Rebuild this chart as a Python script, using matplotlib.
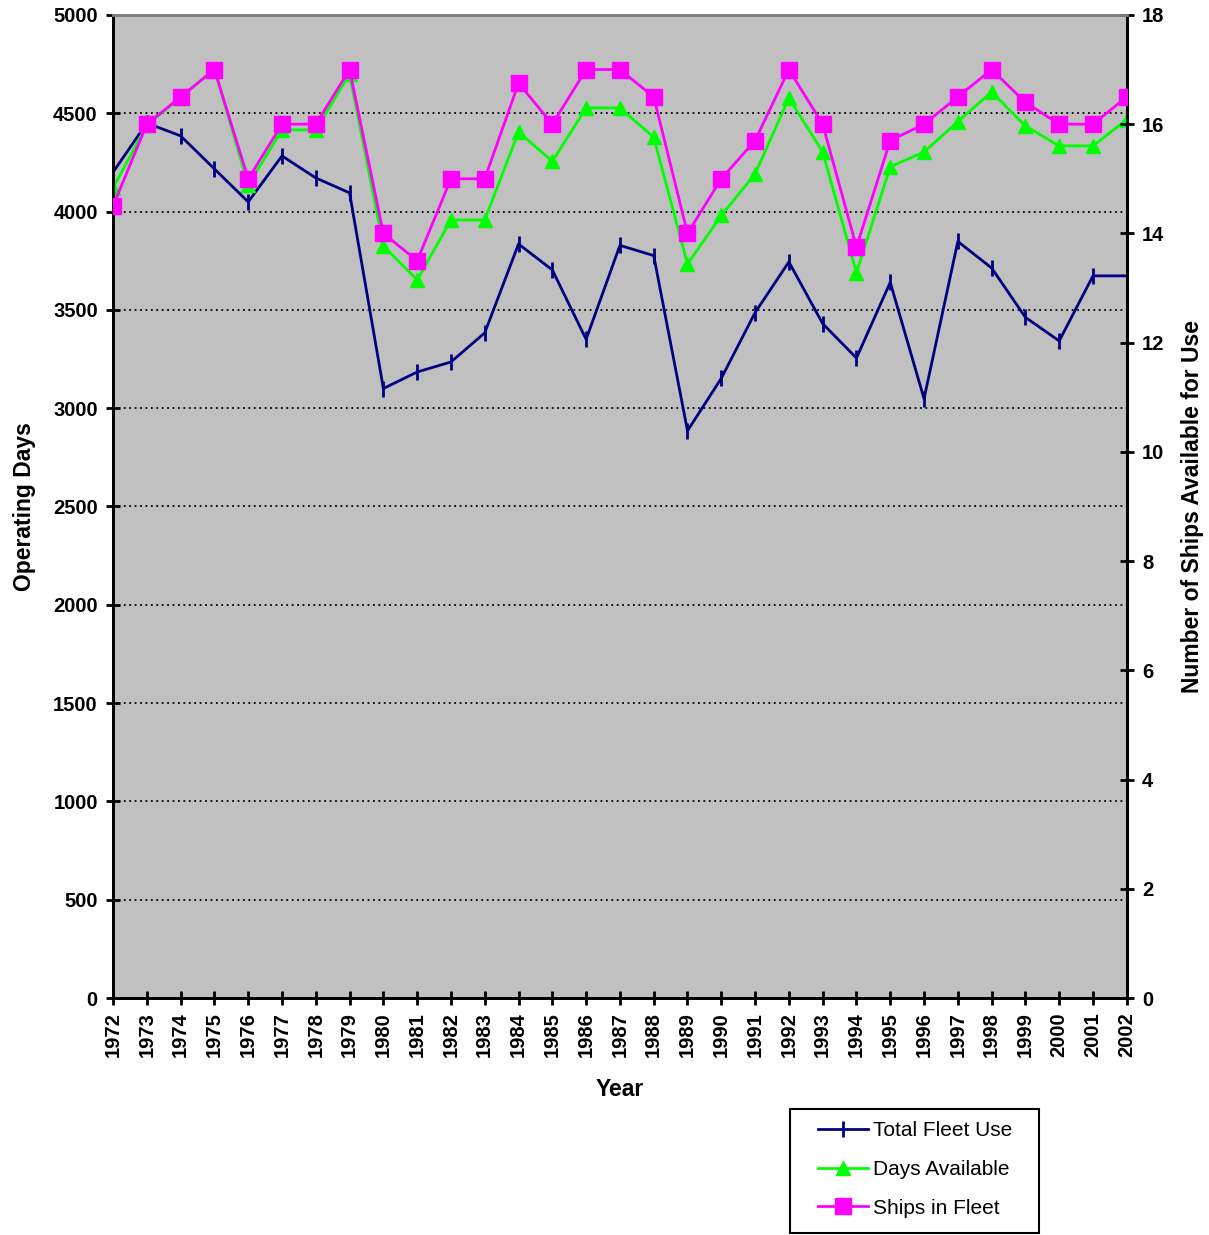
import matplotlib
matplotlib.use("Agg")
import matplotlib.pyplot as plt
from matplotlib.patches import Rectangle
import numpy as np

plt.rcParams['font.family'] = ['Liberation Sans', 'DejaVu Sans']

years = list(range(1972, 2003))

total_fleet_use = [4200, 4450, 4385, 4217, 4049, 4283, 4171, 4095, 3100, 3184,
                   3235, 3383, 3835, 3703, 3350, 3828, 3776, 2885, 3152, 3486,
                   3744, 3430, 3255, 3640, 3048, 3848, 3713, 3462, 3342, 3673,
                   3673]
days_available = [4120, 4440, 4580, 4725, 4135, 4415, 4415, 4700, 3825, 3652,
                  3957, 3957, 4405, 4255, 4527, 4527, 4378, 3733, 3980, 4191,
                  4578, 4303, 3688, 4228, 4303, 4458, 4608, 4435, 4334, 4334,
                  4468]
ships_in_fleet = [14.5, 16.0, 16.5, 17.0, 15.0, 16.0, 16.0, 17.0, 14.0, 13.5,
                  15.0, 15.0, 16.75, 16.0, 17.0, 17.0, 16.5, 14.0, 15.0, 15.7,
                  17.0, 16.0, 13.75, 15.7, 16.0, 16.5, 17.0, 16.4, 16.0, 16.0,
                  16.5]

navy = "#000080"
green = "#00FF00"
magenta = "#FF00FF"

fig = plt.figure(figsize=(12.09, 12.35), dpi=100)
ax = fig.add_axes([0.0935, 0.1919, 0.8385, 0.796])
ax.set_facecolor("#C0C0C0")

l1, = ax.plot(years, total_fleet_use, color=navy, lw=2, marker="|",
              markersize=12, mew=2, label="Total Fleet Use", zorder=3)
l2, = ax.plot(years, days_available, color=green, lw=2, marker="^",
              markersize=10, label="Days Available", zorder=4)

ax.set_xlim(1972, 2002)
ax.set_ylim(0, 5000)
ax.set_yticks(np.arange(0, 5001, 500))
ax.set_xticks(years)
ax.set_xticklabels([str(y) for y in years], rotation=90)
ax.yaxis.grid(True, color="black", linestyle=(0, (1, 2)), lw=1.3)
ax.set_axisbelow(True)

ax2 = ax.twinx()
l3, = ax2.plot(years, ships_in_fleet, color=magenta, lw=2, marker="s",
               markersize=11, label="Ships in Fleet", zorder=5)
ax2.set_ylim(0, 18)
ax2.set_yticks(np.arange(0, 19, 2))

for a in (ax, ax2):
    a.tick_params(direction="inout", length=10, width=2, labelsize=14.5)
    for lab in a.get_xticklabels() + a.get_yticklabels():
        lab.set_fontweight("bold")
    for side in ("left", "bottom", "right"):
        a.spines[side].set_linewidth(2)
        a.spines[side].set_color("black")
    a.spines["top"].set_color("#808080")
    a.spines["top"].set_linewidth(2)
ax.tick_params(axis="x", pad=5)
ax2.tick_params(axis="y", pad=6)
ax.tick_params(axis="y", pad=6)

ax.set_xlabel("Year", fontsize=16.5, fontweight="bold", labelpad=15)
ax.set_ylabel("Operating Days", fontsize=16.5, fontweight="bold", labelpad=12)
ax2.set_ylabel("Number of Ships Available for Use", fontsize=16.5,
               fontweight="bold", labelpad=12)

# legend box drawn separately so its size matches the original
fig.patches.append(Rectangle((0.6534, 0.0016), 0.206, 0.1004,
                             transform=fig.transFigure, facecolor="white",
                             edgecolor="black", lw=1.5, zorder=1))
leg = fig.legend(handles=[l1, l2, l3], loc="upper left",
                 bbox_to_anchor=(0.6766, 0.0923),
                 fontsize=15, frameon=False, handlelength=2.4,
                 handletextpad=0.25, borderpad=0, labelspacing=0.95,
                 borderaxespad=0)
leg.set_zorder(2)

fig.savefig("out.png", dpi=100)
